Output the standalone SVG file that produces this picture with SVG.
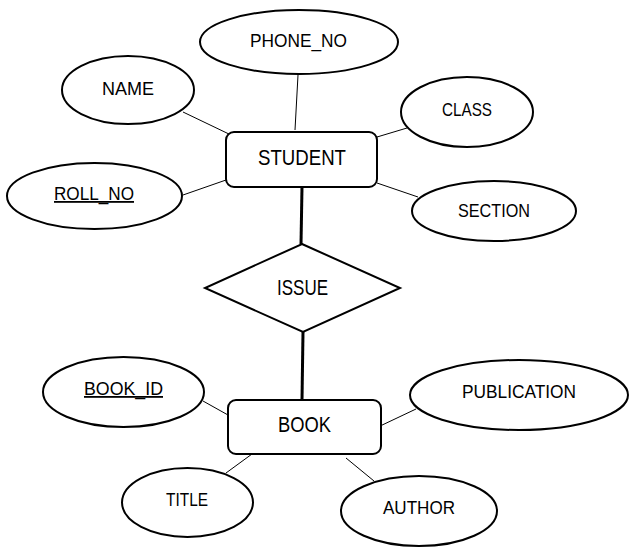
<svg xmlns="http://www.w3.org/2000/svg" width="634" height="555" viewBox="0 0 634 555">
<style>
.shape{fill:#fff;stroke:#000;stroke-width:2}
.thin{stroke:#000;stroke-width:1;fill:none}
.thick{stroke:#000;stroke-width:3;fill:none}
text{font-family:"Liberation Sans",Arial,sans-serif;fill:#000;text-anchor:middle}
.attr{font-size:18px}
.ent{font-size:22px}
.key{text-decoration:underline}
</style>
<rect width="634" height="555" fill="#fff"/>
<g id="connectors">
<line class="thin" x1="298" y1="75" x2="295" y2="130"/>
<line class="thin" x1="183" y1="112" x2="231" y2="135"/>
<line class="thin" x1="183" y1="195" x2="226" y2="180"/>
<line class="thin" x1="407" y1="128" x2="377" y2="137"/>
<line class="thin" x1="418" y1="197" x2="377" y2="183"/>
<line class="thick" x1="302" y1="187" x2="301" y2="244"/>
<line class="thick" x1="303" y1="332" x2="302" y2="400"/>
<line class="thin" x1="203" y1="401" x2="228" y2="415"/>
<line class="thin" x1="226" y1="473" x2="252" y2="454"/>
<line class="thin" x1="416" y1="409" x2="378" y2="427"/>
<line class="thin" x1="374" y1="481" x2="346" y2="458"/>
</g>
<g id="phone_no"><ellipse class="shape" cx="299" cy="42" rx="99" ry="32"/><text class="attr" x="298.5" y="47" textLength="97" lengthAdjust="spacingAndGlyphs">PHONE_NO</text></g>
<g id="name"><ellipse class="shape" cx="128" cy="90" rx="66" ry="34"/><text class="attr" x="128" y="95" textLength="52" lengthAdjust="spacingAndGlyphs">NAME</text></g>
<g id="class"><ellipse class="shape" cx="467" cy="112" rx="66" ry="35"/><text class="attr" x="467" y="116" textLength="50" lengthAdjust="spacingAndGlyphs">CLASS</text></g>
<g id="roll_no"><ellipse class="shape" cx="94.5" cy="196" rx="87.5" ry="33"/><text class="attr key" x="94" y="200" textLength="80" lengthAdjust="spacingAndGlyphs">ROLL_NO</text></g>
<g id="section"><ellipse class="shape" cx="494" cy="211" rx="82" ry="30"/><text class="attr" x="494" y="217" textLength="72" lengthAdjust="spacingAndGlyphs">SECTION</text></g>
<g id="student"><rect class="shape" x="226" y="132" width="151" height="55" rx="8"/><text class="ent" x="302" y="165" textLength="88" lengthAdjust="spacingAndGlyphs">STUDENT</text></g>
<g id="issue"><polygon class="shape" points="302,244 400,288 303,332 205,288"/><text class="ent" x="302.5" y="295" textLength="51" lengthAdjust="spacingAndGlyphs">ISSUE</text></g>
<g id="book"><rect class="shape" x="228" y="400" width="153" height="54" rx="8"/><text class="ent" x="304.5" y="432" textLength="53" lengthAdjust="spacingAndGlyphs">BOOK</text></g>
<g id="book_id"><ellipse class="shape" cx="123.5" cy="392" rx="80.5" ry="35"/><text class="attr key" x="123.5" y="395" textLength="79" lengthAdjust="spacingAndGlyphs">BOOK_ID</text></g>
<g id="publication"><ellipse class="shape" cx="519" cy="395" rx="109" ry="35"/><text class="attr" x="519" y="398" textLength="114" lengthAdjust="spacingAndGlyphs">PUBLICATION</text></g>
<g id="title"><ellipse class="shape" cx="187.5" cy="502.5" rx="65.5" ry="34.5"/><text class="attr" x="187" y="506" textLength="42" lengthAdjust="spacingAndGlyphs">TITLE</text></g>
<g id="author"><ellipse class="shape" cx="419" cy="511" rx="78" ry="35"/><text class="attr" x="419" y="514" textLength="72" lengthAdjust="spacingAndGlyphs">AUTHOR</text></g>
</svg>
